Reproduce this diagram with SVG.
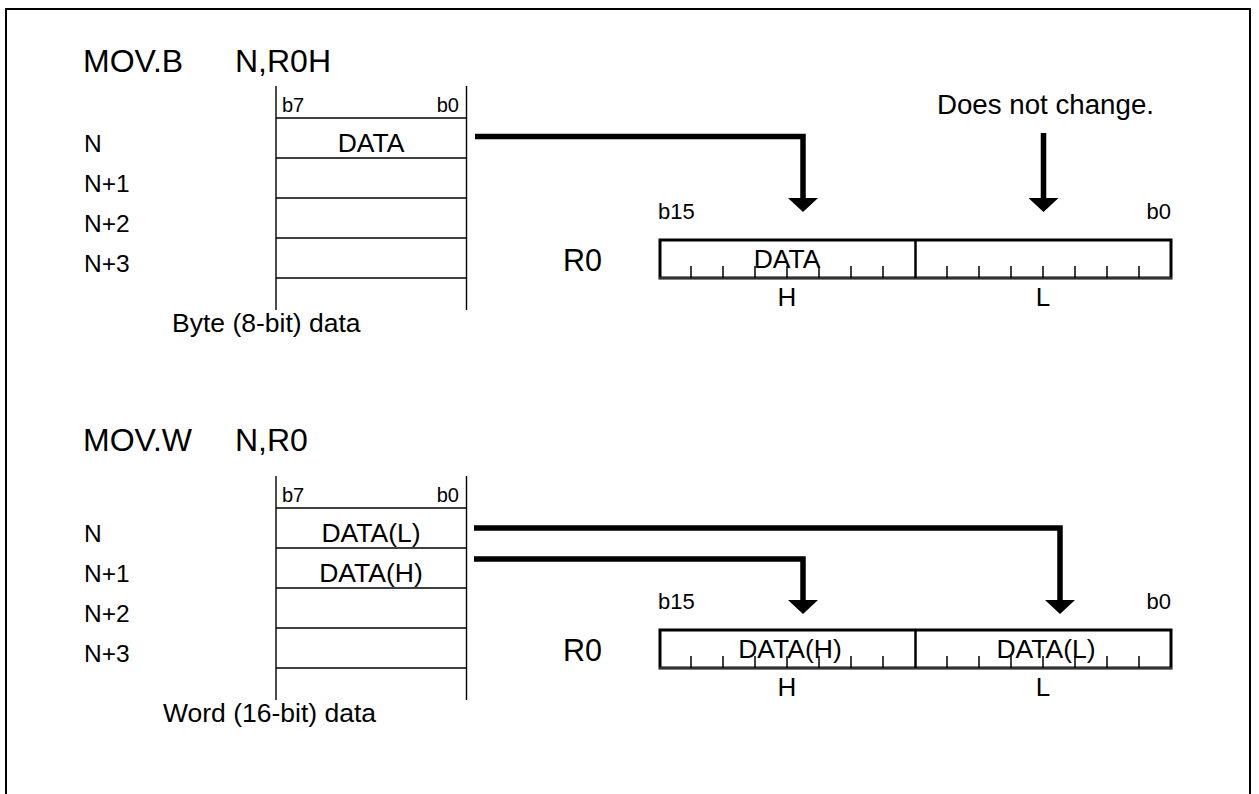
<svg xmlns="http://www.w3.org/2000/svg" width="1259" height="794" viewBox="0 0 1259 794">
<style>
text{font-family:"Liberation Sans",Arial,sans-serif;fill:#000}
.title{font-size:32px}
.lbl{font-size:24.5px}
.bit{font-size:20px}
.rbit{font-size:22px}
.cell{font-size:26.5px;text-anchor:middle}
.reg{font-size:30.5px}
.hl{font-size:26px;text-anchor:middle}
.note{font-size:27.7px;text-anchor:end}
.cap{font-size:26.5px}
.tbl{stroke:#000;stroke-width:1.4;fill:none}
.box{stroke:#000;stroke-width:3;fill:none}
.bot{stroke:#333;stroke-width:2}
.div{stroke:#000;stroke-width:2.5}
.tick{stroke:#000;stroke-width:1.5}
.conn{stroke:#000;stroke-width:5.5;fill:none;stroke-linejoin:miter}
</style>
<defs>
<marker id="ah" viewBox="0 0 14 30" markerUnits="userSpaceOnUse" markerWidth="14" markerHeight="30" refX="0" refY="15" orient="auto">
<polygon points="0,0 14,15 0,30" fill="#000"/>
</marker>
<g id="ticks">
<line class="tick" x1="691" y1="266" x2="691" y2="278"/>
<line class="tick" x1="723" y1="266" x2="723" y2="278"/>
<line class="tick" x1="755" y1="266" x2="755" y2="278"/>
<line class="tick" x1="787" y1="266" x2="787" y2="278"/>
<line class="tick" x1="819" y1="266" x2="819" y2="278"/>
<line class="tick" x1="851" y1="266" x2="851" y2="278"/>
<line class="tick" x1="883" y1="266" x2="883" y2="278"/>
<line class="tick" x1="947" y1="266" x2="947" y2="278"/>
<line class="tick" x1="979" y1="266" x2="979" y2="278"/>
<line class="tick" x1="1011" y1="266" x2="1011" y2="278"/>
<line class="tick" x1="1043" y1="266" x2="1043" y2="278"/>
<line class="tick" x1="1075" y1="266" x2="1075" y2="278"/>
<line class="tick" x1="1107" y1="266" x2="1107" y2="278"/>
<line class="tick" x1="1139" y1="266" x2="1139" y2="278"/>
</g>
<g id="memtable">
<line class="tbl" x1="276" y1="86" x2="276" y2="310"/>
<line class="tbl" x1="466.5" y1="86" x2="466.5" y2="310"/>
<line class="tbl" x1="276" y1="118" x2="466.5" y2="118"/>
<line class="tbl" x1="276" y1="158" x2="466.5" y2="158"/>
<line class="tbl" x1="276" y1="198" x2="466.5" y2="198"/>
<line class="tbl" x1="276" y1="238" x2="466.5" y2="238"/>
<line class="tbl" x1="276" y1="278" x2="466.5" y2="278"/>
<text class="bit" x="282" y="112">b7</text>
<text class="bit" x="459" y="112" text-anchor="end">b0</text>
<text class="lbl" x="84" y="151.7">N</text>
<text class="lbl" x="84" y="191.7">N+1</text>
<text class="lbl" x="84" y="231.7">N+2</text>
<text class="lbl" x="84" y="271.7">N+3</text>
</g>
<g id="register">
<rect class="box" x="660" y="240" width="511" height="38"/>
<line class="bot" x1="659" y1="278" x2="1172" y2="278"/>
<line class="div" x1="915.5" y1="240" x2="915.5" y2="278"/>
<use href="#ticks"/>
<text class="reg" x="563" y="271">R0</text>
<text class="rbit" x="658" y="219">b15</text>
<text class="rbit" x="1171" y="219" text-anchor="end">b0</text>
<text class="hl" x="787" y="306">H</text>
<text class="hl" x="1043" y="306">L</text>
</g>
</defs>

<rect x="6" y="9" width="1244" height="800" fill="none" stroke="#000" stroke-width="2"/>

<g id="byte-title">
<text class="title" x="83" y="72">MOV.B</text>
<text class="title" x="235" y="72">N,R0H</text>
</g>
<g id="byte-memory">
<use href="#memtable"/>
<text class="cell" x="371" y="151.7">DATA</text>
<text class="cap" x="172" y="331.7">Byte (8-bit) data</text>
</g>
<g id="byte-register">
<use href="#register"/>
<text class="cell" x="787" y="268">DATA</text>
</g>
<g id="byte-note">
<text class="note" x="1154" y="114">Does not change.</text>
</g>

<g id="word-title">
<text class="title" x="83" y="451">MOV.W</text>
<text class="title" x="235" y="451">N,R0</text>
</g>
<g id="word-memory">
<use href="#memtable" y="390"/>
<text class="cell" x="371" y="541.7">DATA(L)</text>
<text class="cell" x="371" y="581.7">DATA(H)</text>
<text class="cap" x="163" y="721.7">Word (16-bit) data</text>
</g>
<g id="word-register">
<use href="#register" y="390"/>
<text class="cell" x="790" y="658">DATA(H)</text>
<text class="cell" x="1046" y="658">DATA(L)</text>
</g>

<g id="connectors">
<path class="conn" d="M475,136.5 H803 V198" marker-end="url(#ah)"/>
<path class="conn" d="M1043.5,133 V198" marker-end="url(#ah)"/>
<path class="conn" d="M474,528 H1060 V600" marker-end="url(#ah)"/>
<path class="conn" d="M474,559 H803 V600" marker-end="url(#ah)"/>
</g>
</svg>
